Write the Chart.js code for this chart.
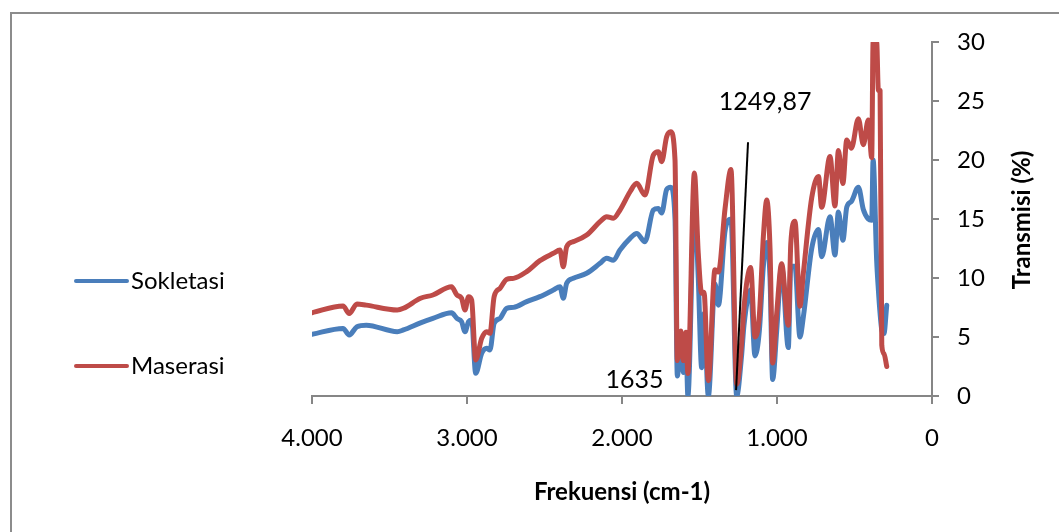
<!DOCTYPE html>
<html>
<head>
<meta charset="utf-8">
<script src="https://cdn.jsdelivr.net/npm/chart.js@4.4.0/dist/chart.umd.min.js"></script>
<style>
  html, body { margin: 0; padding: 0; background: #fff; }
  #wrap { width: 1059px; height: 532px; }
</style>
</head>
<body>
<div id="wrap"><canvas id="myChart" width="1059" height="532"></canvas></div>
<script>
// wavenumber grid (cm-1)
const wavenumbers = [4000, 3800, 3760, 3710, 3650, 3450, 3410, 3300, 3220, 3100, 3065, 3035, 3013, 2990, 2970,
  2944, 2905, 2873, 2852, 2825, 2787, 2744, 2700, 2615, 2530, 2443, 2400, 2379, 2357, 2314, 2228, 2142, 2099,
  2056, 2013, 1948, 1905, 1852, 1798, 1766, 1744, 1712, 1686, 1658, 1643, 1621, 1604, 1587, 1575, 1533, 1508,
  1486, 1471, 1443, 1400, 1378, 1335, 1297, 1260, 1228, 1213, 1170, 1142, 1114, 1088, 1066, 1045, 1028, 1002,
  970, 927, 911, 884, 852, 830, 776, 732, 712, 658, 626, 604, 575, 550, 520, 475, 443, 411, 389, 380, 357,
  346, 335, 324, 310, 292];

const sokletasi = [5.23, 5.73, 5.17, 5.87, 6.0, 5.45, 5.6, 6.2, 6.58, 7.06, 6.58, 6.3, 5.45, 6.3, 6.44,
  1.92, 3.62, 4.04, 3.9, 6.16, 6.58, 7.43, 7.51, 8.0, 8.42, 8.98, 9.26, 8.28, 9.55, 9.97, 10.4, 11.24, 11.67,
  11.5, 12.37, 13.36, 13.78, 13.08, 15.76, 15.9, 15.5, 17.5, 17.7, 15.0, 1.7, 4.8, 2.0, 4.5, 0, 16.5, 10.0,
  2.4, 7.0, 0, 9.5, 7.7, 14.0, 15.0, 0, 3.5, 6.0, 9.0, 3.4, 5.5, 11.0, 13.0, 10.0, 1.4, 5.5,
  11.0, 4.1, 11.0, 11.0, 5.0, 6.7, 12.5, 14.1, 11.8, 15.2, 11.95, 15.6, 13.2, 16.0, 16.5, 17.7, 15.8, 15.0, 14.9, 20.0, 11.5,
  9.0, 7.0, 5.6, 5.3, 7.7];

const maserasi = [7.06, 7.63, 7.0, 7.8, 7.7, 7.29, 7.43, 8.28, 8.56, 9.26, 8.56, 8.28, 7.29, 8.42, 8.14,
  3.05, 4.89, 5.45, 5.31, 8.42, 9.12, 9.89, 9.97, 10.54, 11.47, 12.09, 12.37, 10.96, 12.65, 13.08, 13.64, 14.77, 15.2,
  15.06, 15.76, 17.31, 18.02, 17.03, 20.42, 20.7, 19.86, 21.98, 22.4, 20.0, 3.0, 5.5, 3.0, 5.4, 1.9, 18.9, 12.1,
  8.7, 8.8, 1.3, 10.7, 10.5, 15.9, 19.2, 1.0, 4.5, 7.5, 10.9, 5.0, 6.8, 13.5, 16.6, 12.5, 2.8, 7.0,
  11.2, 6.0, 12.9, 14.8, 7.6, 10.4, 16.8, 18.6, 16.0, 20.3, 16.1, 20.8, 18.0, 21.7, 21.0, 23.5, 21.3, 23.4, 20.2, 30, 30,
  25.9, 25.9, 4.3, 3.6, 2.5];

// marker line for the 1249,87 peak
const markerX = [1187, 1264];
const markerY = [21.5, 0.5];

const xTicks = [4000, 3000, 2000, 1000, 0];
const labels = [
  { text: "1249,87", x: 1077, y: 24.9 },
  { text: "1635", x: 1920, y: 1.4 },
];

const blue = "#4a7ebb";
const red = "#be4b48";
const axisGray = "#868686";
const font = "Lato, 'Open Sans', sans-serif";

const toPoints = (xs, ys) => xs.map((x, i) => ({ x: x, y: ys[i] }));

// frame, custom legend, y title and peak labels
const extras = {
  id: "extras",
  beforeDraw(chart) {
    const ctx = chart.ctx;
    ctx.save();
    ctx.strokeStyle = "#8c8c8c";
    ctx.lineWidth = 2;
    ctx.beginPath();
    ctx.moveTo(11, 532);
    ctx.lineTo(11, 13);
    ctx.lineTo(1059, 13);
    ctx.stroke();
    ctx.restore();
  },
  afterDraw(chart) {
    const ctx = chart.ctx;
    const xs = chart.scales.x;
    const ys = chart.scales.y;
    ctx.save();
    ctx.fillStyle = "#000";
    ctx.font = "25px " + font;
    ctx.textAlign = "center";
    ctx.textBaseline = "middle";
    labels.forEach((l) => {
      ctx.fillText(l.text, xs.getPixelForValue(l.x), ys.getPixelForValue(l.y));
    });

    // legend
    const items = [
      { text: "Sokletasi", color: blue, y: 281 },
      { text: "Maserasi", color: red, y: 366 },
    ];
    ctx.font = "24px " + font;
    ctx.lineCap = "round";
    ctx.lineWidth = 4;
    ctx.textAlign = "left";
    items.forEach((it) => {
      ctx.strokeStyle = it.color;
      ctx.beginPath();
      ctx.moveTo(76, it.y);
      ctx.lineTo(127, it.y);
      ctx.stroke();
      ctx.fillText(it.text, 131, it.y);
    });

    // y axis title, reads bottom to top
    ctx.translate(1022, 220);
    ctx.rotate(-Math.PI / 2);
    ctx.textAlign = "center";
    ctx.font = "bold 24px " + font;
    ctx.fillText("Transmisi (%)", 0, 0);
    ctx.restore();
  },
};

new Chart(document.getElementById("myChart"), {
  type: "line",
  data: {
    datasets: [
      {
        label: "marker",
        data: toPoints(markerX, markerY),
        borderColor: "#000",
        borderWidth: 2,
        pointRadius: 0,
      },
      {
        label: "Maserasi",
        data: toPoints(wavenumbers, maserasi),
        borderColor: red,
        borderWidth: 5,
        pointRadius: 0,
        cubicInterpolationMode: "monotone",
        borderJoinStyle: "round",
        borderCapStyle: "round",
      },
      {
        label: "Sokletasi",
        data: toPoints(wavenumbers, sokletasi),
        borderColor: blue,
        borderWidth: 5,
        pointRadius: 0,
        cubicInterpolationMode: "monotone",
        borderJoinStyle: "round",
        borderCapStyle: "round",
      },
    ],
  },
  options: {
    responsive: false,
    animation: false,
    layout: { padding: { left: 312, right: 10, top: 42, bottom: 0 } },
    plugins: {
      legend: { display: false },
      tooltip: { enabled: false },
    },
    scales: {
      x: {
        type: "linear",
        reverse: true,
        min: 0,
        max: 4000,
        afterBuildTicks: (scale) => {
          scale.ticks = xTicks.map((v) => ({ value: v }));
        },
        afterFit: (scale) => {
          scale.height = 136;
        },
        grid: { drawOnChartArea: false, color: axisGray, tickLength: 8, lineWidth: 2 },
        border: { color: axisGray, width: 2 },
        ticks: {
          color: "#000",
          font: { family: font, size: 24 },
          padding: 20,
          maxRotation: 0,
          callback: (v) => (v === 0 ? "0" : v.toLocaleString("de-DE")),
        },
        title: {
          display: true,
          text: "Frekuensi (cm-1)",
          color: "#000",
          font: { family: font, size: 24, weight: "bold" },
          padding: { top: 0, bottom: 25 },
        },
      },
      y: {
        position: "right",
        min: 0,
        max: 30,
        afterFit: (scale) => {
          scale.width = 117;
        },
        grid: { drawOnChartArea: false, color: axisGray, tickLength: 7, lineWidth: 2 },
        border: { color: axisGray, width: 2 },
        ticks: {
          stepSize: 5,
          color: "#000",
          font: { family: font, size: 24 },
          padding: 18,
        },
      },
    },
  },
  plugins: [extras],
});
</script>
</body>
</html>
